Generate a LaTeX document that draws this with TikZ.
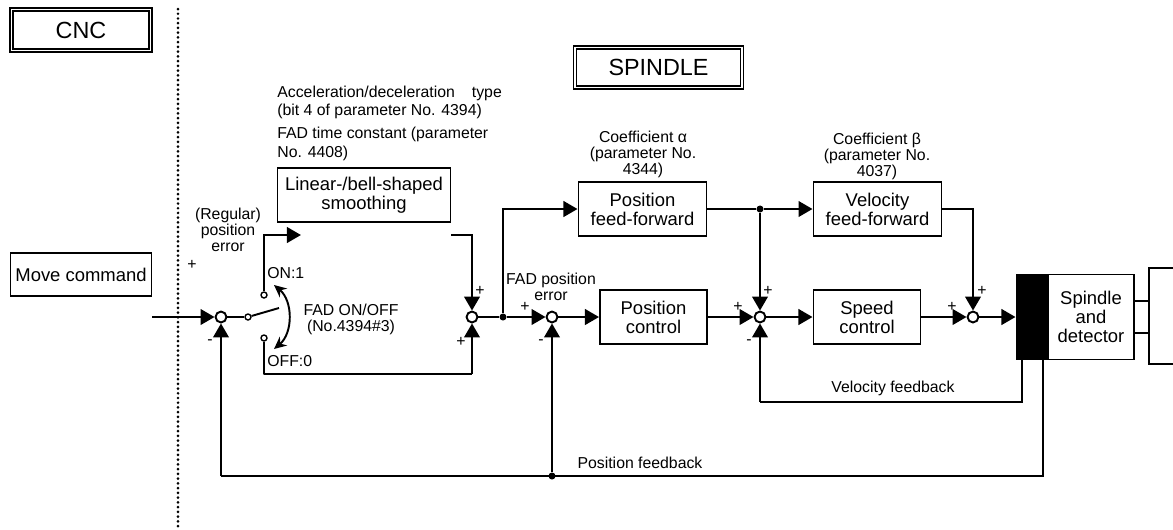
\documentclass[tikz,border=0pt]{standalone}
\usepackage{fontspec}
\setmainfont{Liberation Sans}
\usetikzlibrary{arrows.meta, positioning}

\begin{document}
\begin{tikzpicture}[x=0.02cm, y=-0.02cm, >={Triangle[length=8pt,width=8.8pt]},
		block/.style={rectangle, draw=black, fill=white, line width=1.1pt, inner sep=0pt, align=center, font=\fontsize{10.5}{10.7}\selectfont},
		title/.style={rectangle, draw=black, fill=white, double, double distance=1.1pt, line width=0.6pt, inner sep=0pt, font=\fontsize{13.3}{15}\selectfont},
		junction/.style={circle, draw=black, fill=white, line width=1.1pt, minimum size=6.2pt, inner sep=0pt},
		contact/.style={circle, draw=black, fill=white, line width=0.8pt, minimum size=3.4pt, inner sep=0pt},
		branch/.style={circle, fill=black, minimum size=4pt, inner sep=0pt},
		label/.style={inner sep=0pt, align=center, font=\fontsize{9}{9.1}\selectfont},
		sign/.style={inner sep=0pt, font=\fontsize{9}{9}\selectfont},
		signal/.style={line width=1.5pt}]
		
		\useasboundingbox (0, 0) rectangle (1173, 529);
		
		% Titles
		\node[title, minimum width=2.78cm, minimum height=0.82cm] (cnc) at (81, 30) {CNC};
		\node[title, minimum width=3.35cm, minimum height=0.8cm] (spindle) at (658.5, 67.5) {SPINDLE};
		\coordinate (sepTop) at (178, 9);
		\coordinate (sepEnd) at (178, 529);
		\draw[line width=1.7pt, line cap=round, dash pattern=on 0pt off 2.7pt] (sepTop) -- (sepEnd);
		
		% Blocks
		\node[block, minimum width=2.82cm, minimum height=0.86cm] (move) at (81, 274.5) {Move command};
		\node[block, minimum width=3.46cm, minimum height=1.07cm] (smooth) at (364, 195) {Linear-/bell-shaped\\smoothing};
		\node[block, minimum width=2.56cm, minimum height=1.07cm] (posff) at (642.5, 209) {Position\\feed-forward};
		\node[block, minimum width=2.14cm, minimum height=1.07cm] (posctl) at (653.5, 317) {Position\\control};
		\node[block, minimum width=2.56cm, minimum height=1.07cm] (velff) at (877.5, 209) {Velocity\\feed-forward};
		\node[block, minimum width=2.14cm, minimum height=1.07cm] (spdctl) at (867, 317) {Speed\\control};
		\node[block, minimum width=1.72cm, minimum height=1.7cm] (motor) at (1091, 317) {Spindle\\and\\detector};
		\node[rectangle, draw=black, fill=black, line width=1.1pt, minimum width=0.62cm, minimum height=1.7cm, inner sep=0pt] (amp) at (1032, 317) {};
		\node[rectangle, draw=black, fill=white, line width=1.1pt, minimum width=1cm, minimum height=1.92cm, inner sep=0pt] (load) at (1174, 316) {};
		
		% Junctions
		\node[junction] (sum1) at (221, 317) {};
		\node[junction] (sum2) at (472, 317) {};
		\node[junction] (sum3) at (552, 317) {};
		\node[junction] (sum4) at (760, 317) {};
		\node[junction] (sum5) at (973, 317) {};
		\node[contact] (pole) at (248, 317) {};
		\node[contact] (on) at (264, 295) {};
		\node[contact] (off) at (264, 338) {};
		\node[branch] (b1) at (503, 317) {};
		\node[branch] (b2) at (760, 209) {};
		\node[branch] (b3) at (552, 476) {};
		
		% Free ends
		\coordinate (in) at (152, 317);
		\coordinate (blade) at (279, 308);
		\coordinate (onEnd) at (301, 235);
		\coordinate (onCorner) at (264, 235);
		\coordinate (smoothOut) at (451, 235);
		\coordinate (s2Top) at (472, 235);
		\coordinate (offCorner) at (264, 374);
		\coordinate (s2Low) at (472, 374);
		\coordinate (ffCorner) at (503, 209);
		\coordinate (velCorner) at (973, 209);
		\coordinate (velFb) at (1022, 402);
		\coordinate (velFbEnd) at (760, 402);
		\coordinate (posFb) at (1043, 476);
		\coordinate (posFbEnd) at (221, 476);
		
		% Forward path
		\draw[signal, ->] (in) -- (sum1);
		\draw[signal] (sum1) -- (pole);
		\draw[line width=1.1pt] (pole) -- (blade);
		\draw[signal, ->] (on) -- (onCorner) -- (onEnd);
		\draw[signal, line join=round] (off) -- (offCorner) -- (s2Low);
		\draw[signal, ->] (s2Low) -- (sum2);
		\draw[signal, ->] (smoothOut) -- (s2Top) -- (sum2);
		\draw[signal] (sum2) -- (b1);
		\draw[signal, ->] (b1) -- (sum3);
		\draw[signal, ->] (sum3) -- (posctl);
		\draw[signal, ->] (b1) -- (ffCorner) -- (posff);
		\draw[signal] (posff) -- (b2);
		\draw[signal, ->] (b2) -- (velff);
		\draw[signal, ->] (b2) -- (sum4);
		\draw[signal, ->] (posctl) -- (sum4);
		\draw[signal, ->] (sum4) -- (spdctl);
		\draw[signal, ->] (spdctl) -- (sum5);
		\draw[signal, ->] (velff) -- (velCorner) -- (sum5);
		\draw[signal, ->] (sum5) -- (amp);
		
		% Feedback
		\draw[signal] (amp.south -| velFb) -- (velFb) -- (velFbEnd);
		\draw[signal, ->] (velFbEnd) -- (sum4);
		\draw[signal] (amp.south -| posFb) -- (posFb) -- (posFbEnd);
		\draw[signal, ->] (posFbEnd) -- (sum1);
		\draw[signal, ->] (b3) -- (sum3);
		
		% Switch arrow
		\coordinate (swTop) at (274, 285);
		\coordinate (swLow) at (274, 349);
		\draw[line width=1.1pt, {Stealth[length=7pt,width=6.5pt]}-{Stealth[length=7pt,width=6.5pt]}] (swTop) to[bend left=50] (swLow);
		
		% Detector links
		\draw[line width=1.1pt] (motor.east |- 0,301) -- (load.west |- 0,301);
		\draw[line width=1.1pt] (motor.east |- 0,333) -- (load.west |- 0,333);
		
		% Labels
		\node[label, align=left, anchor=west, font=\fontsize{9}{10.7}\selectfont] (acc) at (277, 102.5) {Acceleration/deceleration\hspace{0.8em} type\\(bit 4 of parameter No. 4394)};
		\node[label, align=left, anchor=west, font=\fontsize{9}{10.7}\selectfont] (fad) at (277, 143.5) {FAD time constant (parameter\\No. 4408)};
		\node[label] (regular) at (228, 230) {(Regular)\\position\\error};
		\node[label, anchor=west] (onl) at (267, 273) {ON:1};
		\node[label, anchor=west] (offl) at (267, 361) {OFF:0};
		\node[label] (fadsw) at (351, 319) {FAD ON/OFF\\(No.4394\#3)};
		\node[label] (faderr) at (551, 287) {FAD position\\error};
		\node[label] (coefa) at (643, 154) {Coefficient α\\(parameter No.\\4344)};
		\node[label] (coefb) at (877, 156) {Coefficient β\\(parameter No.\\4037)};
		\node[label] (velfbl) at (893, 388) {Velocity feedback};
		\node[label] (posfbl) at (640, 463) {Position feedback};
		
		% Signs
		\node[sign] (p1) at (192, 265) {+};
		\node[sign] (m1) at (210, 342) {-};
		\node[sign] (p2) at (480, 291) {+};
		\node[sign] (p3) at (461, 342) {+};
		\node[sign] (p4) at (525, 307) {+};
		\node[sign] (m3) at (541, 342) {-};
		\node[sign] (p5) at (738, 307) {+};
		\node[sign] (p6) at (768, 291) {+};
		\node[sign] (m4) at (749, 342) {-};
		\node[sign] (p7) at (952, 307) {+};
		\node[sign] (p8) at (982, 291) {+};
		
	\end{tikzpicture}
\end{document}
